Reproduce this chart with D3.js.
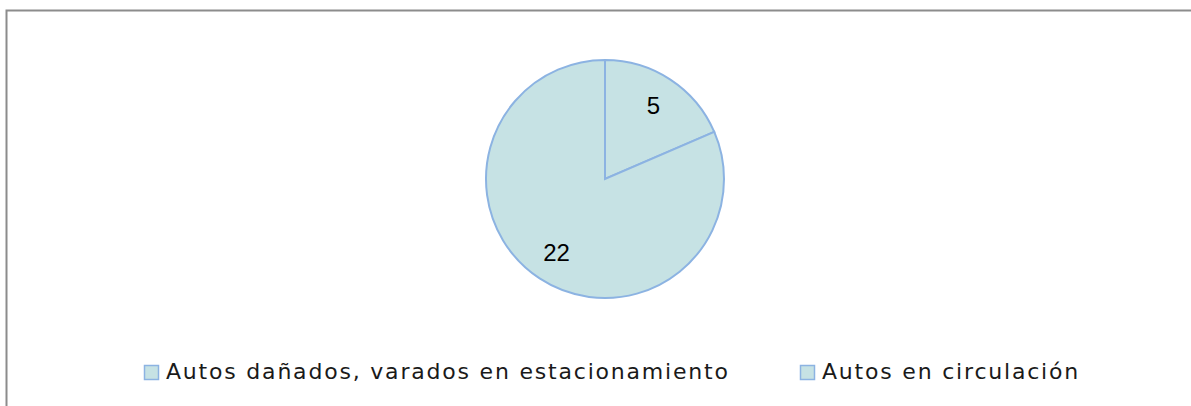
<html>
  <head>
    <meta charset="utf-8">
    <script src="https://d3js.org/d3.v7.min.js"></script>
    <style>
      body { margin: 0; background: #fff; }
      .legend text { font-family: "DejaVu Sans", sans-serif; font-size: 22px; letter-spacing: 1.8px; fill: #1a1a1a; }
      .label { font-family: "Liberation Sans", Arial, sans-serif; font-size: 24px; fill: #000; }
    </style>
  </head>
  <body>
    <svg id="svg1" width="1191" height="406"></svg>
    <script>
      const categories = ["Autos dañados, varados en estacionamiento", "Autos en circulación"];
      const values = [5, 22];

      const svg = d3.select("svg#svg1");

      // chart frame (only top and left edges are visible in the crop)
      svg.append("rect")
        .attr("x", 6.5).attr("y", 10.5)
        .attr("width", 1200).attr("height", 420)
        .attr("fill", "none")
        .attr("stroke", "#8c8c8c")
        .attr("stroke-width", 2);

      const cx = 605, cy = 179, radius = 119;

      const pie = d3.pie().sort(null).value(d => d);
      const arcs = pie(values);
      const arc = d3.arc().innerRadius(0).outerRadius(radius);
      const labelArc = d3.arc().innerRadius(radius * 0.74).outerRadius(radius * 0.74);

      const chart = svg.append("g").attr("transform", `translate(${cx},${cy})`);

      chart.selectAll("path")
        .data(arcs)
        .join("path")
        .attr("d", arc)
        .attr("fill", "#c6e2e4")
        .attr("stroke", "#8cb3e2")
        .attr("stroke-width", 2);

      chart.selectAll("text")
        .data(arcs)
        .join("text")
        .attr("class", "label")
        .attr("transform", d => `translate(${labelArc.centroid(d)})`)
        .attr("text-anchor", "middle")
        .attr("dy", "0.35em")
        .text(d => d.data);

      // legend
      const legendX = [144, 800];
      const legend = svg.append("g").attr("class", "legend")
        .selectAll("g")
        .data(categories)
        .join("g")
        .attr("transform", (d, i) => `translate(${legendX[i]},365)`);

      legend.append("rect")
        .attr("x", 0.5).attr("y", 0.5)
        .attr("width", 14).attr("height", 14)
        .attr("fill", "#c6e2e4")
        .attr("stroke", "#8cb3e2")
        .attr("stroke-width", 1.5);

      legend.append("text")
        .attr("x", 22)
        .attr("y", 6.5)
        .attr("dy", "0.35em")
        .text(d => d);
    </script>
  </body>
</html>
